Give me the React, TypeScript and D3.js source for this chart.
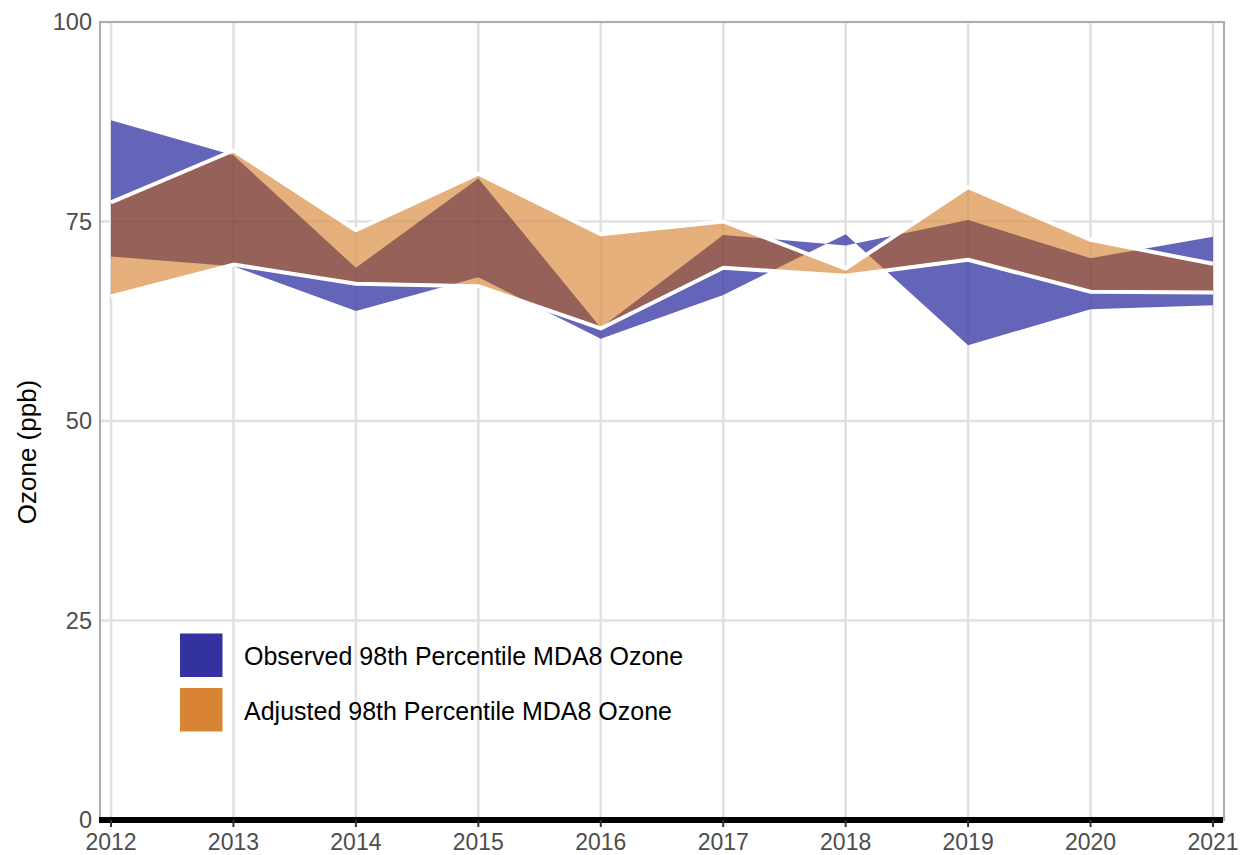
import React, { useEffect } from "react";
import * as d3 from "d3";

const years = [2012, 2013, 2014, 2015, 2016, 2017, 2018, 2019, 2020, 2021];
const observedUpper = [87.7, 83.3, 69.2, 80.4, 61.7, 73.3, 72.0, 75.2, 70.4, 73.1];
const observedLower = [70.6, 69.4, 63.8, 68.0, 60.3, 65.8, 73.4, 59.5, 64.0, 64.5];
const adjustedUpper = [77.4, 83.9, 73.9, 81.0, 73.4, 75.0, 69.1, 79.3, 72.7, 69.7];
const adjustedLower = [65.6, 69.6, 67.2, 66.9, 61.6, 69.2, 68.2, 70.2, 66.2, 66.1];
const yTicks = [0, 25, 50, 75, 100];
const legendLabels = ["Observed 98th Percentile MDA8 Ozone", "Adjusted 98th Percentile MDA8 Ozone"];

const W = 1241;
const H = 855;
const FONT = "'Liberation Sans', Arial, Helvetica, sans-serif";

export default function App() {
  useEffect(() => {
    document.body.style.margin = "0";
  }, []);

  const panel = { left: 100, right: 1224, top: 22, bottom: 820 };
  const x = d3.scaleLinear().domain([2012, 2021]).range([111, 1213]);
  const y = d3.scaleLinear().domain([0, 100]).range([panel.bottom, panel.top]);

  type Row = { yr: number; lo: number; hi: number };
  const obs: Row[] = years.map((yr, i) => ({ yr, lo: observedLower[i], hi: observedUpper[i] }));
  const adj: Row[] = years.map((yr, i) => ({ yr, lo: adjustedLower[i], hi: adjustedUpper[i] }));

  const area = d3
    .area<Row>()
    .x((d) => x(d.yr))
    .y0((d) => y(d.lo))
    .y1((d) => y(d.hi));
  const lineHi = d3.line<Row>().x((d) => x(d.yr)).y((d) => y(d.hi));
  const lineLo = d3.line<Row>().x((d) => x(d.yr)).y((d) => y(d.lo));

  const obsPath = area(obs) || "";
  const adjPath = area(adj) || "";

  const gridColor = "#ebebeb";

  return (
    <svg width={W} height={H} style={{ display: "block", background: "#fff" }} fontFamily={FONT}>
      <defs>
        <clipPath id="adjClip">
          <path d={adjPath} clipRule="nonzero" />
        </clipPath>
      </defs>
      {/* grid */}
      <g>
        {yTicks.map((t) => (
          <line key={"gy" + t} x1={panel.left} x2={panel.right} y1={y(t)} y2={y(t)} stroke={gridColor} strokeWidth={2.5} />
        ))}
        {years.map((yr) => (
          <line key={"gx" + yr} x1={x(yr)} x2={x(yr)} y1={panel.top} y2={panel.bottom} stroke={gridColor} strokeWidth={2.5} />
        ))}
      </g>
      {/* ribbons */}
      <path d={obsPath} fill="#6464b9" fillRule="nonzero" />
      <path d={adjPath} fill="#e5b07b" fillRule="nonzero" />
      <path d={obsPath} fill="#966158" fillRule="nonzero" clipPath="url(#adjClip)" />
      {/* faint grid show-through */}
      <g opacity={0.035}>
        {yTicks.slice(1, 4).map((t) => (
          <line key={"fy" + t} x1={panel.left} x2={panel.right} y1={y(t)} y2={y(t)} stroke="#000" strokeWidth={2.5} />
        ))}
        {years.map((yr) => (
          <line key={"fx" + yr} x1={x(yr)} x2={x(yr)} y1={panel.top} y2={panel.bottom} stroke="#000" strokeWidth={2.5} />
        ))}
      </g>
      {/* white outline of adjusted ribbon */}
      <path d={lineHi(adj) || ""} fill="none" stroke="#fff" strokeWidth={4} strokeLinejoin="round" />
      <path d={lineLo(adj) || ""} fill="none" stroke="#fff" strokeWidth={4} strokeLinejoin="round" />

      {/* panel border */}
      <rect
        x={panel.left}
        y={panel.top}
        width={panel.right - panel.left}
        height={panel.bottom - panel.top}
        fill="none"
        stroke="#adadad"
        strokeWidth={2}
      />
      {/* thick x-axis line */}
      <line x1={panel.left - 1} x2={panel.right - 1} y1={panel.bottom} y2={panel.bottom} stroke="#000" strokeWidth={6} />
      {/* x ticks & labels */}
      {years.map((yr) => (
        <g key={"xt" + yr}>
          <line x1={x(yr)} x2={x(yr)} y1={panel.bottom} y2={panel.bottom + 7} stroke="#333" strokeWidth={2} />
          <text x={x(yr)} y={850} textAnchor="middle" fontSize={23} fill="#4d4d4d">
            {yr}
          </text>
        </g>
      ))}
      {/* y labels */}
      {yTicks.map((t) => (
        <text key={"yl" + t} x={92} y={y(t) + 8.3} textAnchor="end" fontSize={23.5} fill="#4d4d4d">
          {t}
        </text>
      ))}
      {/* y title */}
      <text
        transform={`translate(36, 452) rotate(-90)`}
        textAnchor="middle"
        fontSize={26}
        fill="#000"
      >
        Ozone (ppb)
      </text>
      {/* legend */}
      <rect x={180} y={633.5} width={42.5} height={43.5} fill="#3432a0" />
      <rect x={180} y={688} width={42.5} height={43.5} fill="#d88434" />
      <text x={244} y={665} fontSize={25} fill="#000">
        {legendLabels[0]}
      </text>
      <text x={244} y={720} fontSize={25} fill="#000">
        {legendLabels[1]}
      </text>
    </svg>
  );
}
